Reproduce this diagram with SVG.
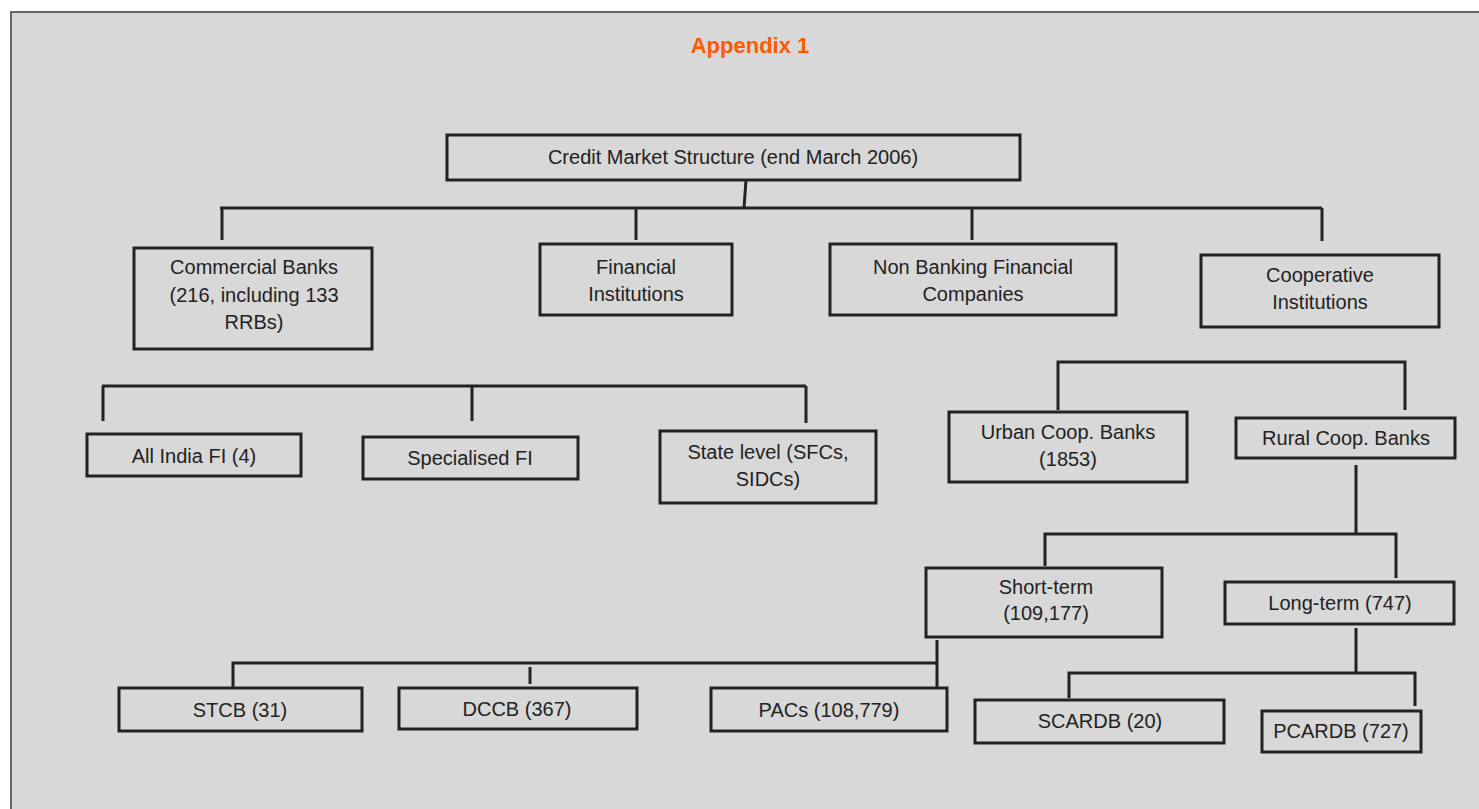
<svg xmlns="http://www.w3.org/2000/svg" width="1479" height="809" viewBox="0 0 1479 809">
<style>
.bg{fill:#d8d8d8;stroke:#666;stroke-width:2}
.box{fill:none;stroke:#222;stroke-width:3}
.t{font-family:"Liberation Sans Narrow","Liberation Sans",Arial,sans-serif;font-size:20px;fill:#222;text-anchor:middle}
.title{font-family:"Liberation Sans Narrow","Liberation Sans",Arial,sans-serif;font-size:22px;font-weight:bold;fill:#ff5a00;text-anchor:middle}
.c{fill:none;stroke:#222;stroke-width:3}
</style>
<rect x="0" y="0" width="1479" height="809" fill="#ffffff"/>
<rect class="bg" x="11" y="12" width="1480" height="810"/>
<text class="title" x="750" y="53">Appendix 1</text>

<g id="connectors">
<path class="c" d="M746,180 L744,208"/>
<path class="c" d="M220,208 H1322 M222,208 V240 M636,208 V240 M972,208 V240 M1322,208 V241"/>
<path class="c" d="M102,386 H806 M103,386 V421 M472,386 V421 M806,386 V423"/>
<path class="c" d="M1058,410 V362 H1405 V410"/>
<path class="c" d="M1356,465 V534 M1045,566 V534 H1396 V578"/>
<path class="c" d="M1356,628 V673 M1069,698 V673 H1415 V706"/>
<path class="c" d="M937,640 V688 M233,688 V663 H937 M530,667 V684"/>
</g>

<g id="root"><rect class="box" x="447" y="135" width="573" height="45"/><text class="t" x="733" y="164">Credit Market Structure (end March 2006)</text></g>

<g id="commercial"><rect class="box" x="134" y="248" width="238" height="101"/>
<text class="t" x="254" y="274">Commercial Banks</text><text class="t" x="254" y="302">(216, including 133</text><text class="t" x="254" y="329">RRBs)</text></g>

<g id="fi"><rect class="box" x="540" y="244" width="192" height="71"/>
<text class="t" x="636" y="274">Financial</text><text class="t" x="636" y="301">Institutions</text></g>

<g id="nbfc"><rect class="box" x="830" y="244" width="286" height="71"/>
<text class="t" x="973" y="274">Non Banking Financial</text><text class="t" x="973" y="301">Companies</text></g>

<g id="coop"><rect class="box" x="1201" y="255" width="238" height="72"/>
<text class="t" x="1320" y="282">Cooperative</text><text class="t" x="1320" y="309">Institutions</text></g>

<g id="allindia"><rect class="box" x="87" y="434" width="214" height="42"/><text class="t" x="194" y="463">All India FI (4)</text></g>
<g id="specialised"><rect class="box" x="363" y="437" width="215" height="42"/><text class="t" x="470" y="465">Specialised FI</text></g>
<g id="statelevel"><rect class="box" x="660" y="431" width="216" height="72"/>
<text class="t" x="768" y="459">State level (SFCs,</text><text class="t" x="768" y="486">SIDCs)</text></g>

<g id="urban"><rect class="box" x="949" y="412" width="238" height="70"/>
<text class="t" x="1068" y="439">Urban Coop. Banks</text><text class="t" x="1068" y="466">(1853)</text></g>
<g id="rural"><rect class="box" x="1236" y="418" width="219" height="40"/><text class="t" x="1346" y="445">Rural Coop. Banks</text></g>

<g id="shortterm"><rect class="box" x="926" y="568" width="236" height="69"/>
<text class="t" x="1046" y="594">Short-term</text><text class="t" x="1046" y="620">(109,177)</text></g>
<g id="longterm"><rect class="box" x="1225" y="582" width="229" height="42"/><text class="t" x="1340" y="610">Long-term (747)</text></g>

<g id="scardb"><rect class="box" x="975" y="700" width="249" height="43"/><text class="t" x="1100" y="728">SCARDB (20)</text></g>
<g id="pcardb"><rect class="box" x="1262" y="711" width="159" height="41"/><text class="t" x="1341" y="738">PCARDB (727)</text></g>

<g id="stcb"><rect class="box" x="119" y="688" width="243" height="43"/><text class="t" x="240" y="717">STCB (31)</text></g>
<g id="dccb"><rect class="box" x="399" y="688" width="238" height="41"/><text class="t" x="517" y="716">DCCB (367)</text></g>
<g id="pacs"><rect class="box" x="711" y="688" width="236" height="43"/><text class="t" x="829" y="717">PACs (108,779)</text></g>
</svg>
